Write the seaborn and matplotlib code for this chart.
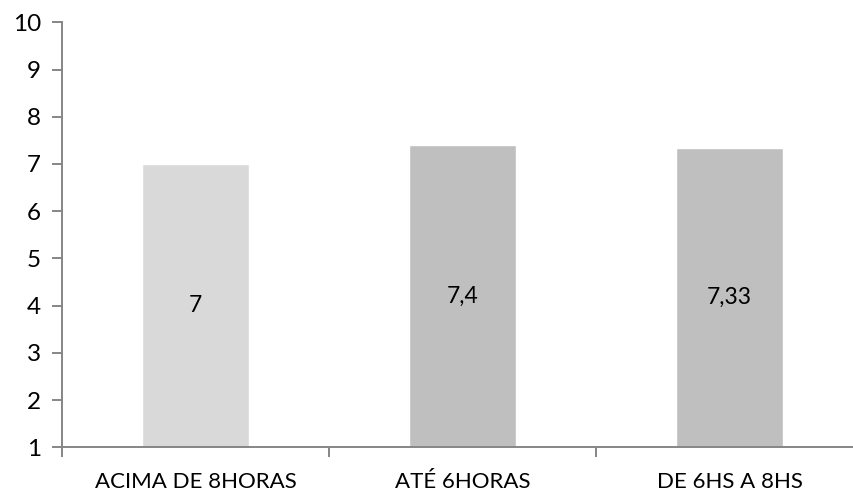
import matplotlib
matplotlib.use("Agg")
import matplotlib.pyplot as plt
import seaborn as sns
import pandas as pd
from matplotlib.ticker import FixedLocator

categories = ["ACIMA DE 8HORAS", "ATÉ 6HORAS", "DE 6HS A 8HS"]
values = [7, 7.4, 7.33]
value_labels = ["7", "7,4", "7,33"]
bar_colors = ["#D9D9D9", "#BFBFBF", "#BFBFBF"]
y_ticks = list(range(1, 11))

sns.set_theme(style="white")
plt.rcParams["font.family"] = ["Lato", "DejaVu Sans"]

df = pd.DataFrame({"categoria": categories, "valor": values})

fig = plt.figure(figsize=(8.54, 4.93), dpi=100)
ax = fig.add_axes([62 / 854, (493 - 447.3) / 493, 801 / 854, (447.3 - 22.3) / 493])

sns.barplot(data=df, x="categoria", y="valor", hue="categoria",
            palette=bar_colors, width=0.4, legend=False, ax=ax, saturation=1)

ax.set_ylim(1, 10)
ax.set_xlim(-0.5, 2.5)
ax.set_yticks(y_ticks)
ax.set_xlabel("")
ax.set_ylabel("")

axis_color = "#868686"
for side in ["top", "right"]:
    ax.spines[side].set_visible(False)
for side in ["left", "bottom"]:
    ax.spines[side].set_color(axis_color)
    ax.spines[side].set_linewidth(1.4)

ax.tick_params(axis="y", which="major", direction="out", length=7, width=1.4,
               color=axis_color, labelsize=17.5, labelcolor="black", pad=8, left=True)
ax.tick_params(axis="x", which="major", length=0, labelsize=16,
               labelcolor="black", pad=18)
ax.xaxis.set_minor_locator(FixedLocator([-0.5, 0.5, 1.5, 2.5]))
ax.tick_params(axis="x", which="minor", direction="out", length=7, width=1.4,
               color=axis_color, bottom=True)

for i, (v, lab) in enumerate(zip(values, value_labels)):
    ax.text(i, (1 + v) / 2, lab, ha="center", va="center", fontsize=16.5, color="black")

fig.savefig("out.png", dpi=100)
